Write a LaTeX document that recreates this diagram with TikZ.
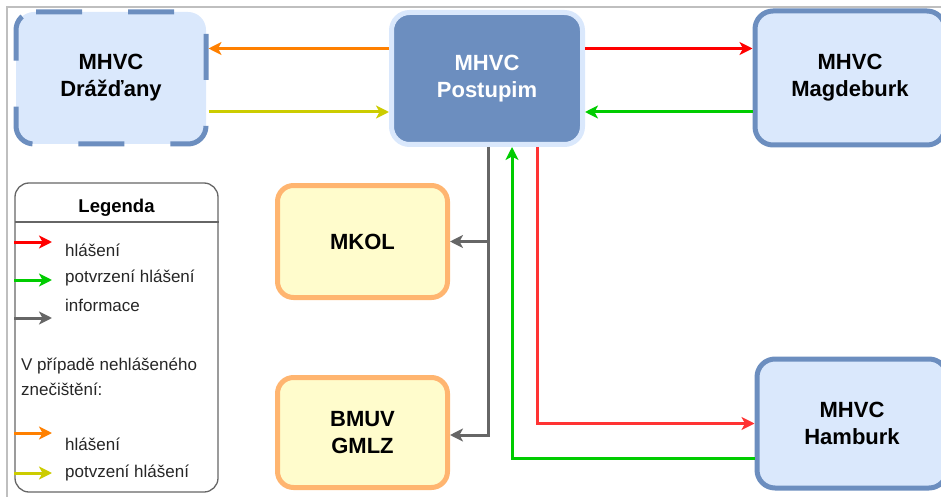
\documentclass[tikz,border=0pt]{standalone}
\usepackage{fontspec}
\setmainfont{Liberation Sans}
\usepackage{xcolor}
\usetikzlibrary{arrows.meta}
\usetikzlibrary{positioning}
\definecolor{mhvc edge}{HTML}{6C8EBF}
\definecolor{mhvc fill}{HTML}{DAE8FC}
\definecolor{kol edge}{HTML}{FFB570}
\definecolor{kol fill}{HTML}{FFFCCC}
\definecolor{hl red}{HTML}{FF0000}
\definecolor{hl red2}{HTML}{FF3333}
\definecolor{pot green}{HTML}{00CC00}
\definecolor{info gray}{HTML}{666666}
\definecolor{nh orange}{HTML}{FF8000}
\definecolor{nh yellow}{HTML}{CCCC00}
\def\boxfont{\fontsize{22}{27}\selectfont\bfseries}
\def\legfont{\fontsize{17}{20}\selectfont}
\tikzset{mhvc/.style={rounded corners=18pt, draw=mhvc edge, fill=mhvc fill, line width=5pt,
        minimum width=190pt, minimum height=132pt, align=center, font=\boxfont},
    kol/.style={rounded corners=16pt, draw=kol edge, fill=kol fill, line width=5pt,
        minimum width=170pt, minimum height=112pt, align=center, font=\boxfont},
    flow/.style={line width=3pt, -{Stealth[length=13pt,width=13pt,inset=3.5pt]}},
    legtext/.style={anchor=base west, inner sep=0pt, font=\legfont, text=black!85}}

\begin{document}
\begin{tikzpicture}[x=1pt, y=-1pt]
    \useasboundingbox (0,0) rectangle (941,497);
    % frame of the page
    \draw[gray!50, line width=1.5pt] (7,497) -- (7,7) -- (941,7);

    \node[mhvc, draw=none, outer sep=0pt] (drazdany) at (111,78) {MHVC\\Drážďany};
    % dashed border, started on the top edge
    \draw[mhvc edge, line width=5pt, rounded corners=18pt, dash pattern=on 46pt off 46pt]
        ([xshift=20pt]drazdany.north west) -- (drazdany.north east) -- (drazdany.south east)
        -- (drazdany.south west) -- (drazdany.north west) -- ([xshift=20pt]drazdany.north west);
    \node[mhvc, draw=mhvc fill, fill=mhvc edge, text=white, minimum width=191pt] (postupim) at (487,78.5) {MHVC\\Postupim};
    \node[mhvc, minimum height=134pt] (magdeburk) at (850,78) {MHVC\\Magdeburk};
    \node[mhvc, minimum height=129pt] (hamburk) at (852,423.5) {MHVC\\Hamburk};
    \node[kol] (mkol) at (362.5,241.5) {MKOL};
    \node[kol, minimum height=110pt] (bmuv) at (362.5,432.5) {BMUV\\GMLZ};

    % top row
    \coordinate (p1) at ([yshift=30pt]postupim.west);
    \coordinate (p2) at ([yshift=-33.5pt]postupim.west);
    \coordinate (p3) at ([yshift=30pt]postupim.east);
    \coordinate (p4) at ([yshift=-33.5pt]postupim.east);
    \draw[flow, nh orange] (p1) -- ([xshift=2.5pt]p1 -| drazdany.east);
    \draw[flow, nh yellow] ([xshift=2.5pt]p2 -| drazdany.east) -- (p2);
    \draw[flow, hl red] (p3) -- (p3 -| magdeburk.west);
    \draw[flow, pot green] (p4 -| magdeburk.west) -- (p4);

    % downwards
    \coordinate (g1) at ([xshift=1pt]postupim.south);
    \coordinate (r1) at ([xshift=50pt]postupim.south);
    \coordinate (n1) at ([xshift=25pt]postupim.south);
    \coordinate (h1) at ([yshift=-35pt]hamburk.west);
    \draw[flow, info gray] (g1) |- ([yshift=-2.5pt]bmuv.east);
    \draw[flow, info gray] (g1 |- mkol.east) -- (mkol.east);
    \draw[flow, hl red2] (r1) |- (hamburk.west);
    \draw[flow, pot green] (h1) -| (n1);

    % legend
    \node[draw=info gray, line width=1.3pt, rounded corners=14pt, minimum width=203pt,
        minimum height=309pt] (legenda) at (116.5,337.5) {};
    \coordinate (hl) at (15,222);
    \draw[info gray, line width=1.3pt] (hl) -- (hl -| legenda.east);
    \node[anchor=base, font=\fontsize{18.5}{22}\selectfont\bfseries] (legtitle) at (116.5,212) {Legenda};
    \coordinate (l1) at (52,242);
    \coordinate (l2) at (52,280);
    \coordinate (l3) at (52,318);
    \coordinate (l4) at (52,433);
    \coordinate (l5) at (52,473);
    \draw[flow, hl red] (l1 -| legenda.west) -- (l1);
    \draw[flow, pot green] (l2 -| legenda.west) -- (l2);
    \draw[flow, info gray] (l3 -| legenda.west) -- (l3);
    \draw[flow, nh orange] (l4 -| legenda.west) -- (l4);
    \draw[flow, nh yellow] (l5 -| legenda.west) -- (l5);
    \node[legtext] (t1) at (65,256) {hlášení};
    \node[legtext] (t2) at (65,282) {potvrzení hlášení};
    \node[legtext] (t3) at (65,311) {informace};
    \node[legtext] (t4) at (21,370) {V případě nehlášeného};
    \node[legtext] (t5) at (21,395) {znečištění:};
    \node[legtext] (t6) at (65,450) {hlášení};
    \node[legtext] (t7) at (65,477) {potvzení hlášení};
\end{tikzpicture}
\end{document}
